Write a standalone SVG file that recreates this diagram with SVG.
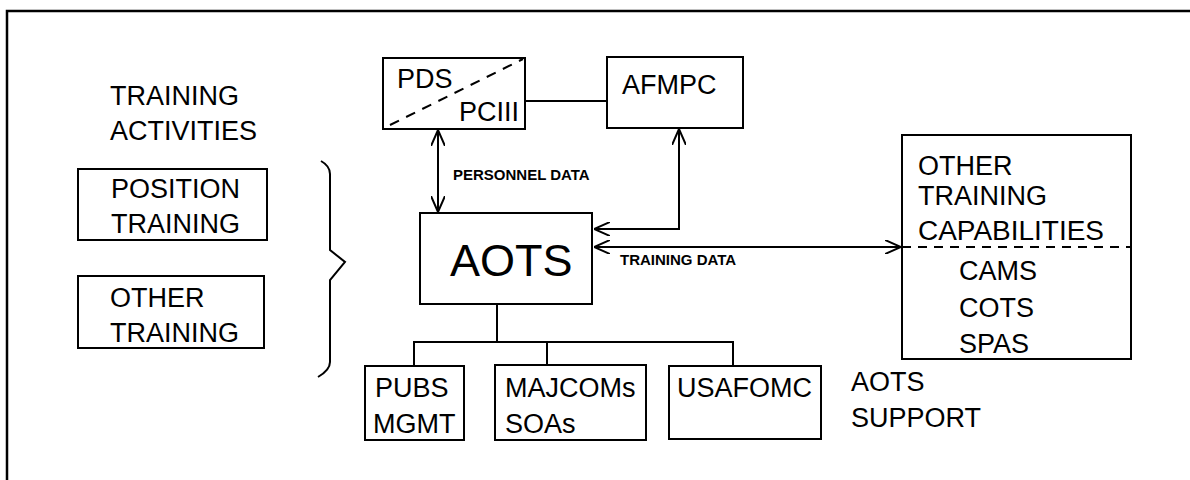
<svg xmlns="http://www.w3.org/2000/svg" width="1190" height="480" viewBox="0 0 1190 480">
<style>
.box{fill:none;stroke:#000;stroke-width:2}
.ln{fill:none;stroke:#000;stroke-width:2}
.t{font-family:"Liberation Sans",Arial,sans-serif;font-size:27px;fill:#000}
.big{font-family:"Liberation Sans",Arial,sans-serif;font-size:45px;fill:#000}
.lbl{font-family:"Liberation Sans",Arial,sans-serif;font-size:15px;font-weight:bold;fill:#000}
</style>
<defs>
<marker id="ah" viewBox="0 0 16 14" refX="16" refY="7" markerWidth="16" markerHeight="14" markerUnits="userSpaceOnUse" orient="auto-start-reverse">
<path d="M0,0 L16,7 L0,14" fill="none" stroke="#000" stroke-width="2"/>
</marker>
</defs>
<rect width="1190" height="480" fill="#fff"/>
<path d="M7,480 L7,11 L1190,11" fill="none" stroke="#000" stroke-width="2.5"/>

<g id="title">
<text class="t" x="110" y="105">TRAINING</text>
<text class="t" x="110" y="140">ACTIVITIES</text>
</g>
<g id="position-training">
<rect class="box" x="78" y="169" width="189" height="71"/>
<text class="t" x="111" y="198">POSITION</text>
<text class="t" x="111" y="233">TRAINING</text>
</g>
<g id="other-training">
<rect class="box" x="78" y="276" width="186" height="72"/>
<text class="t" x="110" y="307">OTHER</text>
<text class="t" x="110" y="342">TRAINING</text>
</g>
<g id="brace">
<path class="ln" d="M321,161 Q330,166 330,174 L330,250 L345,262 L330,280 L330,362 Q330,370 318,377"/>
</g>
<g id="pds">
<rect class="box" x="383" y="58" width="142" height="71"/>
<path d="M390,125 L523,59" fill="none" stroke="#000" stroke-width="2" stroke-dasharray="10,8"/>
<text class="t" x="397" y="88">PDS</text>
<text class="t" x="459" y="121">PCIII</text>
</g>
<g id="afmpc">
<rect class="box" x="607" y="57" width="136" height="71"/>
<text class="t" x="622" y="94">AFMPC</text>
</g>
<g id="aots">
<rect class="box" x="420" y="213" width="172" height="91"/>
<text class="big" x="450" y="276">AOTS</text>
</g>
<g id="other-capabilities">
<rect class="box" x="902" y="135" width="229" height="224"/>
<line x1="902" y1="247" x2="1131" y2="247" stroke="#000" stroke-width="2" stroke-dasharray="9,7"/>
<text class="t" x="918" y="175">OTHER</text>
<text class="t" x="918" y="205">TRAINING</text>
<text class="t" x="918" y="240" textLength="186" lengthAdjust="spacingAndGlyphs">CAPABILITIES</text>
<text class="t" x="959" y="280">CAMS</text>
<text class="t" x="959" y="317">COTS</text>
<text class="t" x="959" y="353">SPAS</text>
</g>
<g id="pubs">
<rect class="box" x="365" y="366" width="99" height="74"/>
<text class="t" x="375" y="397">PUBS</text>
<text class="t" x="373" y="433">MGMT</text>
</g>
<g id="majcoms">
<rect class="box" x="495" y="365" width="151" height="75"/>
<text class="t" x="505" y="397">MAJCOMs</text>
<text class="t" x="505" y="433">SOAs</text>
</g>
<g id="usafomc">
<rect class="box" x="669" y="366" width="152" height="73"/>
<text class="t" x="677" y="397">USAFOMC</text>
</g>
<g id="aots-support">
<text class="t" x="851" y="391">AOTS</text>
<text class="t" x="851" y="427">SUPPORT</text>
</g>
<g id="connectors">
<line class="ln" x1="525" y1="101" x2="607" y2="101"/>
<line class="ln" x1="438" y1="130" x2="438" y2="212" marker-start="url(#ah)" marker-end="url(#ah)"/>
<polyline class="ln" points="594,229 679,229 679,129" marker-start="url(#ah)" marker-end="url(#ah)"/>
<line class="ln" x1="594" y1="247" x2="901" y2="247" marker-start="url(#ah)" marker-end="url(#ah)"/>
<line class="ln" x1="497" y1="304" x2="497" y2="342"/>
<polyline class="ln" points="414,366 414,342 733,342 733,366"/>
<line class="ln" x1="547" y1="342" x2="547" y2="365"/>
<text class="lbl" x="453" y="180">PERSONNEL DATA</text>
<text class="lbl" x="620" y="265">TRAINING DATA</text>
</g>
</svg>
